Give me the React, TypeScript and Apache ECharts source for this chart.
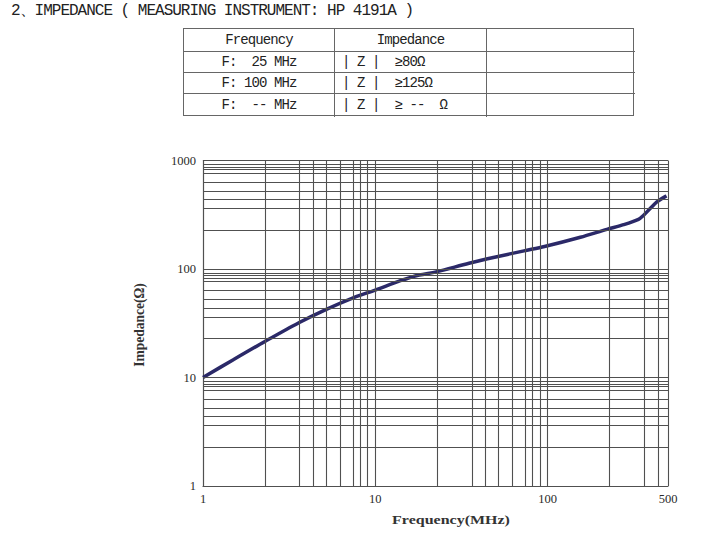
import { useEffect, useRef } from 'react'
import * as echarts from 'echarts'

// ── Data ──────────────────────────────────────────────────────────────────────

const freqMHz = [1, 1.5, 2.3, 3.6, 5.2, 7.5, 10, 14, 18, 22.5, 35, 50, 73, 96, 155, 221, 276, 337, 361, 394, 431, 490]
const impedanceOhm = [10, 14.6, 21.6, 32, 42.5, 54.5, 64, 78, 88, 94, 113, 129, 147, 161, 196, 232, 256, 287, 313, 361, 415, 472]

const xTickLabels = [1, 10, 100, 500]
const yTickLabels = [1, 10, 100, 1000]

// grid lines as printed on the sheet (multiples inside each decade)
const xDecades = [1, 10, 100]
const yDecades = [1, 10, 100]
const xGridSteps = [2.29, 3.63, 4.37, 5.18, 6.24, 7.46, 8.17, 9.02]
const yGridSteps = [2.29, 3.63, 4.37, 5.25, 6.31, 7.67, 8.26, 8.75, 9.18]
const xMajor = [10, 100, 500]
const yMajor = [10, 100, 1000]

const tableHead = ['Frequency', 'Impedance', '']
const tableFreq = ['F:  25 MHz', 'F: 100 MHz', 'F:  -- MHz']
const tableImp = ['| Z |  ≥80Ω', '| Z |  ≥125Ω', '| Z |  ≥ --  Ω']

const TITLE = '2、IMPEDANCE ( MEASURING INSTRUMENT: HP 4191A )'

// ── Helpers ───────────────────────────────────────────────────────────────────

const X_MAX = 500
const Y_MAX = 1000

function gridValues(decades: number[], steps: number[], max: number): number[] {
  const out: number[] = []
  for (const d of decades) for (const s of steps) if (d * s < max) out.push(d * s)
  return out
}

const mono = '"Liberation Mono", "DejaVu Sans Mono", monospace'
const serif = '"Liberation Serif", "DejaVu Serif", serif'

// ── Chart ─────────────────────────────────────────────────────────────────────

function ImpedanceChart() {
  const ref = useRef<HTMLDivElement>(null)

  useEffect(() => {
    if (!ref.current) return
    const chart = echarts.init(ref.current, null, { renderer: 'svg' })

    const gridColor = '#505050'
    const xLines = [...gridValues(xDecades, xGridSteps, X_MAX), ...xMajor]
    const yLines = [...gridValues(yDecades, yGridSteps, Y_MAX), ...yMajor]

    chart.setOption({
      animation: false,
      grid: { left: 203, right: 52, top: 160.5, bottom: 51 },
      xAxis: {
        type: 'log',
        logBase: 10,
        min: 1,
        max: X_MAX,
        axisLine: { show: true, lineStyle: { color: gridColor, width: 1.2 } },
        axisTick: { show: false },
        splitLine: { show: false },
        minorTick: { show: false },
        axisLabel: {
          customValues: xTickLabels,
          margin: 6,
          fontFamily: serif,
          fontSize: 12.5,
          color: '#2a2a2a',
          formatter: (v: number) => String(Math.round(v)),
        },
      },
      yAxis: {
        type: 'log',
        logBase: 10,
        min: 1,
        max: Y_MAX,
        axisLine: { show: true, lineStyle: { color: gridColor, width: 1.2 } },
        axisTick: { show: false },
        splitLine: { show: false },
        axisLabel: {
          customValues: yTickLabels,
          margin: 7,
          fontFamily: serif,
          fontSize: 12.5,
          color: '#2a2a2a',
          formatter: (v: number) => String(Math.round(v)),
        },
      },
      graphic: [
        {
          type: 'text',
          x: 451,
          y: 520,
          scaleX: 1.28,
          style: {
            text: 'Frequency(MHz)',
            font: `bold 12.5px ${serif}`,
            fill: '#333',
            align: 'center',
            verticalAlign: 'middle',
          },
        },
        {
          type: 'text',
          x: 139,
          y: 325,
          rotation: Math.PI / 2,
          scaleX: 1.08,
          scaleY: 1.2,
          style: {
            text: 'Impedance(Ω)',
            font: `bold 12.5px ${serif}`,
            fill: '#333',
            align: 'center',
            verticalAlign: 'middle',
          },
        },
      ],
      series: [
        {
          // printed log grid
          type: 'line',
          data: [],
          z: 1,
          silent: true,
          markLine: {
            silent: true,
            symbol: ['none', 'none'],
            label: { show: false },
            emphasis: { disabled: true },
            lineStyle: { color: gridColor, width: 1.1, type: 'solid' },
            data: [
              ...xLines.map((v) => ({ xAxis: v })),
              ...yLines.map((v) => ({ yAxis: v })),
            ],
          },
        },
        {
          type: 'line',
          z: 3,
          data: freqMHz.map((f, i) => [f, impedanceOhm[i]]),
          smooth: 0.3,
          symbol: 'none',
          lineStyle: { color: '#2b2968', width: 3.5 },
        },
      ],
    })

    return () => chart.dispose()
  }, [])

  return <div ref={ref} style={{ position: 'absolute', left: 0, top: 0, width: 720, height: 537 }} />
}

// ── Spec table ────────────────────────────────────────────────────────────────

const colWidths = [150, 152, 149]
const rowTops = [28.3, 50, 70.7, 92.3, 115.7]

function SpecTable() {
  const border = '1.3px solid #666'
  const rows = [tableHead, ...tableFreq.map((f, i) => [f, tableImp[i], ''])]
  return (
    <div style={{ position: 'absolute', left: 183, top: rowTops[0], width: 451, height: rowTops[4] - rowTops[0], border, boxSizing: 'border-box' }}>
      {rows.map((row, r) => {
        const top = rowTops[r] - rowTops[0]
        const h = rowTops[r + 1] - rowTops[r]
        let left = 0
        return row.map((cell, c) => {
          const cellLeft = left
          left += colWidths[c]
          const centred = r === 0 || c === 0
          return (
            <div
              key={`${r}-${c}`}
              style={{
                position: 'absolute',
                left: cellLeft,
                top,
                width: colWidths[c],
                height: h,
                boxSizing: 'border-box',
                borderTop: r > 0 ? border : 'none',
                borderLeft: c > 0 ? border : 'none',
                display: 'flex',
                alignItems: 'center',
                justifyContent: centred ? 'center' : 'flex-start',
                paddingLeft: centred ? 0 : 7,
                fontFamily: mono,
                fontSize: 14,
                letterSpacing: -0.9,
                whiteSpace: 'pre',
                color: '#222',
              }}
            >
              {cell}
            </div>
          )
        })
      })}
    </div>
  )
}

export default function App() {
  return (
    <div style={{ position: 'fixed', left: 0, top: 0, width: 720, height: 537, background: '#fff', overflow: 'hidden' }}>
      <div
        style={{
          position: 'absolute',
          left: 11,
          top: 1,
          fontFamily: mono,
          fontSize: 16,
          letterSpacing: -1,
          whiteSpace: 'pre',
          color: '#222',
          lineHeight: '20px',
        }}
      >
        {TITLE}
      </div>
      <SpecTable />
      <ImpedanceChart />
    </div>
  )
}
